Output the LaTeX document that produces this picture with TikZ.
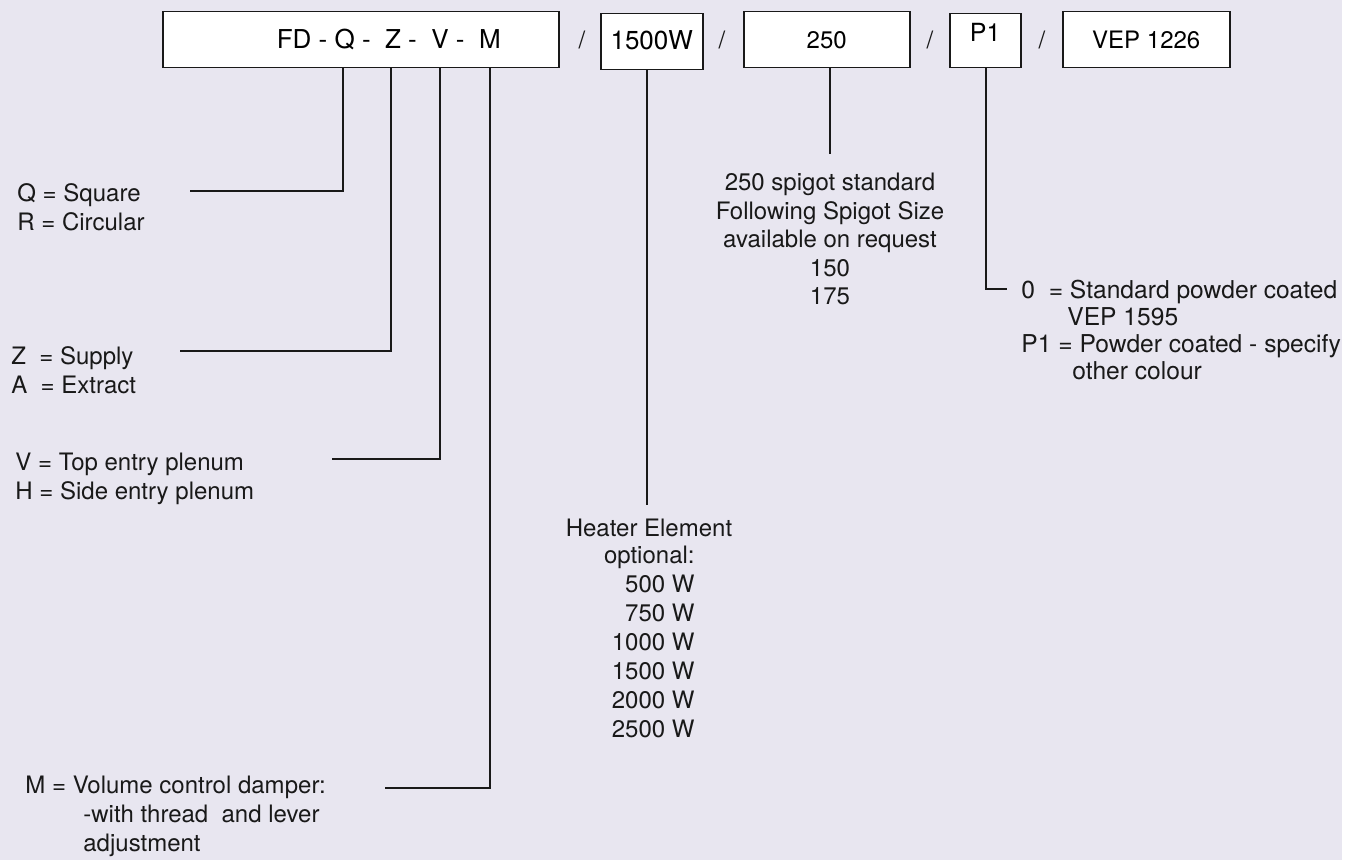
\documentclass[tikz,border=0pt]{standalone}
\usepackage{fontspec}
\setmainfont{TeX Gyre Heros}
\definecolor{bgc}{RGB}{232,230,240}
\definecolor{inkc}{RGB}{25,25,25}
\tikzset{
  codebox/.style={draw=inkc, fill=white, line width=0.75pt, inner sep=0pt, anchor=north west,
    text height=18.5pt, text depth=9.5pt, font=\fontsize{12}{14}\selectfont},
  keytext/.style={inner sep=0pt, anchor=north west, align=left, text=inkc,
    font=\fontsize{12}{14.5}\selectfont},
  tap/.style={draw=inkc, line width=0.7pt}
}
\begin{document}
\begin{tikzpicture}[x=0.5pt, y=-0.5pt]
  \useasboundingbox (0,0) rectangle (1356,860);
  \fill[bgc] (0,0) rectangle (1342,860);
  % code boxes
  \node[codebox, minimum width=198pt, font=\fontsize{13}{15}\selectfont] (fd) at (162,11)
    {\hspace*{28pt}FD - Q -\ \ Z -\ \ V -\ \ M};
  \node[codebox, minimum width=51pt, minimum height=28pt, text height=18pt, text depth=10pt,
    font=\fontsize{13}{15}\selectfont] (heat) at (600,13) {1500W};
  \node[codebox, minimum width=83pt] (spig) at (743,11) {250};
  \node[codebox, minimum width=35.5pt, text height=14pt, text depth=13pt,
    font=\fontsize{12.5}{15}\selectfont] (col) at (949,13) {P1};
  \node[codebox, minimum width=83.5pt] (vep) at (1062,11) {VEP 1226};
  \node[font=\fontsize{12}{14}\selectfont, text=inkc] (sl1) at (582,40) {/};
  \node[font=\fontsize{12}{14}\selectfont, text=inkc] (sl2) at (722,40) {/};
  \node[font=\fontsize{12}{14}\selectfont, text=inkc] (sl3) at (930,40) {/};
  \node[font=\fontsize{12}{14}\selectfont, text=inkc] (sl4) at (1042,40) {/};
  % keys
  \node[keytext] (qkey) at (17,183) {Q = Square\\R = Circular};
  \node[keytext] (zkey) at (11,346) {Z\ \ = Supply\\A\ \ = Extract};
  \node[keytext] (vkey) at (15,453) {V = Top entry plenum\\H = Side entry plenum};
  \node[keytext] (mkey) at (25,776)
    {M = Volume control damper:\\\hspace*{29pt}-with thread\ \ and lever\\\hspace*{29pt}adjustment};
  \node[keytext, anchor=north, align=center] (heatkey) at (649,519) {Heater Element};
  \node[keytext, anchor=north east, align=right] (heatlist) at (695,546)
    {optional:\\500 W\\750 W\\1000 W\\1500 W\\2000 W\\2500 W};
  \node[keytext, anchor=north, align=center, font=\fontsize{12}{14.2}\selectfont] (spigkey) at (830,173)
    {250 spigot standard\\Following Spigot Size\\available on request\\150\\175};
  \node[keytext, font=\fontsize{12.3}{13.4}\selectfont] (colkey) at (1021,280)
    {0\ \ = Standard powder coated\\\hspace*{23pt}VEP 1595\\P1 = Powder coated - specify\\\hspace*{25.5pt}other colour};
  % connector ends
  \coordinate (qend) at (190,191);
  \coordinate (zend) at (180,351);
  \coordinate (vend) at (332,459);
  \coordinate (mend) at (385,788);
  \coordinate (heatend) at (647,505);
  \coordinate (spigend) at (830,154);
  \coordinate (colend) at (1007,289);
  \draw[tap] (fd.south -| 343,0) |- (qend);
  \draw[tap] (fd.south -| 391,0) |- (zend);
  \draw[tap] (fd.south -| 440,0) |- (vend);
  \draw[tap] (fd.south -| 490,0) |- (mend);
  \draw[tap] (heat.south -| heatend) -- (heatend);
  \draw[tap] (spig.south -| spigend) -- (spigend);
  \draw[tap] (col.south -| 986,0) |- (colend);
\end{tikzpicture}
\end{document}
